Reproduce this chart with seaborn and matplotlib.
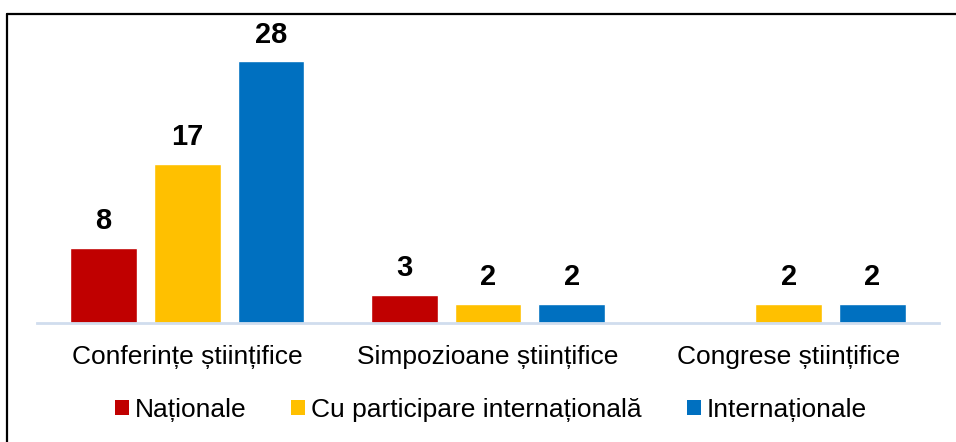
import matplotlib
matplotlib.use("Agg")
import matplotlib.pyplot as plt
from matplotlib.lines import Line2D
from matplotlib.patches import Patch
import seaborn as sns
import pandas as pd
import numpy as np

categories = ["Conferințe științifice", "Simpozioane științifice", "Congrese științifice"]
series = ["Naționale", "Cu participare internațională", "Internaționale"]
nationale = [8, 3, np.nan]
cu_participare = [17, 2, 2]
internationale = [28, 2, 2]
colors = ["#C00000", "#FFC000", "#0070C0"]

rows = []
for name, vals in zip(series, [nationale, cu_participare, internationale]):
    for cat, v in zip(categories, vals):
        if not np.isnan(v):
            rows.append({"categorie": cat, "tip": name, "valoare": v})
df = pd.DataFrame(rows)

sns.set_theme(style="white")
plt.rcParams["font.family"] = ["Liberation Sans", "DejaVu Sans"]
plt.rcParams["text.color"] = "black"

W, H = 956, 442
fig = plt.figure(figsize=(W / 100, H / 100), dpi=100)
ax = fig.add_axes([37 / W, 1 - 322.5 / H, (939 - 37) / W, (322.5 - 24) / H])

sns.barplot(data=df, x="categorie", y="valoare", hue="tip",
            order=categories, hue_order=series, palette=colors,
            width=0.835, gap=0.2, dodge=True, saturation=1,
            legend=False, ax=ax)

ax.set_ylim(0, 32)
ax.set_xlim(-0.5, 2.5)
ax.set_xlabel("")
ax.set_ylabel("")
ax.set_yticks([])
for s in ["top", "right", "left"]:
    ax.spines[s].set_visible(False)
ax.spines["bottom"].set_color("#D0DDEE")
ax.spines["bottom"].set_linewidth(2)
ax.tick_params(axis="x", length=0, pad=16, labelsize=19, labelcolor="black")

for cont in ax.containers:
    labels = [f"{v:g}" if not np.isnan(v) else "" for v in cont.datavalues]
    ax.bar_label(cont, labels=labels, padding=9, fontsize=21,
                 fontweight="bold", color="black")

handles = [Patch(facecolor=c, edgecolor="none") for c in colors]
leg = fig.legend(handles, series, loc="center", bbox_to_anchor=(491 / W, 1 - 410 / H),
                 ncol=3, frameon=False, fontsize=19, handlelength=0.53,
                 handleheight=0.53, handletextpad=0.23, columnspacing=1.7,
                 borderpad=0, borderaxespad=0)
for t in leg.get_texts():
    t.set_color("black")

# frame lines along top and left edges
fig.add_artist(Line2D([7 / W, 1], [1 - 13.5 / H, 1 - 13.5 / H],
                      transform=fig.transFigure, color="black", lw=1.6))
fig.add_artist(Line2D([7 / W, 7 / W], [0, 1 - 13.5 / H],
                      transform=fig.transFigure, color="black", lw=1.6))

fig.savefig("out.png", dpi=100, facecolor="white")
